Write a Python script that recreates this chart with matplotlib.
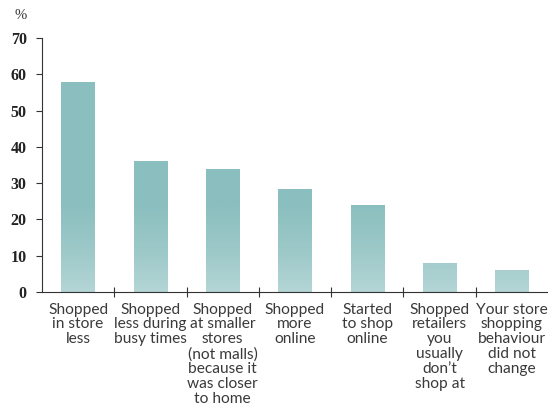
import numpy as np
import matplotlib
matplotlib.use("Agg")
import matplotlib.pyplot as plt
from matplotlib.colors import LinearSegmentedColormap

# values
categories = [
    "Shopped\nin store\nless",
    "Shopped\nless during\nbusy times",
    "Shopped\nat smaller\nstores\n(not malls)\nbecause it\nwas closer\nto home",
    "Shopped\nmore\nonline",
    "Started\nto shop\nonline",
    "Shopped\nretailers\nyou\nusually\ndon\u2019t\nshop at",
    "Your store\nshopping\nbehaviour\ndid not\nchange",
]
values = [58, 36, 34, 28.5, 24, 8, 6]
yticks = [0, 10, 20, 30, 40, 50, 60, 70]

fig = plt.figure(figsize=(5.48, 4.13), dpi=100)
ax = fig.add_axes([0.0766, 0.293, 0.9234, 0.615])

x = np.arange(len(values))
bars = ax.bar(x, values, width=0.46, color="none")

# vertical gradient inside each bar: lighter at the bottom, teal above
cmap = LinearSegmentedColormap.from_list("teal", ["#b4d5d5", "#9cc8c8", "#8bbfbf"])
grad = np.linspace(0, 1, 256).reshape(-1, 1)
for b in bars:
    x0, w, h = b.get_x(), b.get_width(), b.get_height()
    im = ax.imshow(np.clip(grad * h / 24.0, 0, 1), extent=[x0, x0 + w, 0, h],
                   origin="lower", aspect="auto", cmap=cmap, vmin=0, vmax=1, zorder=2)
    im.set_clip_path(b)

ax.set_xlim(-0.5, len(values) - 0.5)
ax.set_ylim(0, 70)

ax.spines["top"].set_visible(False)
ax.spines["right"].set_visible(False)
ax.spines["left"].set_color("#333333")
ax.spines["bottom"].set_color("#333333")

ax.set_yticks(yticks)
ax.set_yticklabels([str(t) for t in yticks], fontfamily="Liberation Serif",
                   fontweight="bold", fontsize=11.5, color="#222222")
ax.tick_params(axis="y", length=4, color="#333333", pad=7)

ax.set_xticks(x[:-1] + 0.5)
ax.set_xticklabels([])
ax.tick_params(axis="x", direction="inout", length=7, color="#333333")

for i, lab in enumerate(categories):
    ax.text(i, -2.9, lab, ha="center", va="top", fontsize=11.2,
            fontfamily="Lato", color="#3a3a3a", linespacing=1.08)

fig.text(0.037, 0.962, "%", fontsize=10.5, fontfamily="Liberation Serif",
         color="#333333", ha="center", va="center")

fig.savefig("out.png", dpi=100)
